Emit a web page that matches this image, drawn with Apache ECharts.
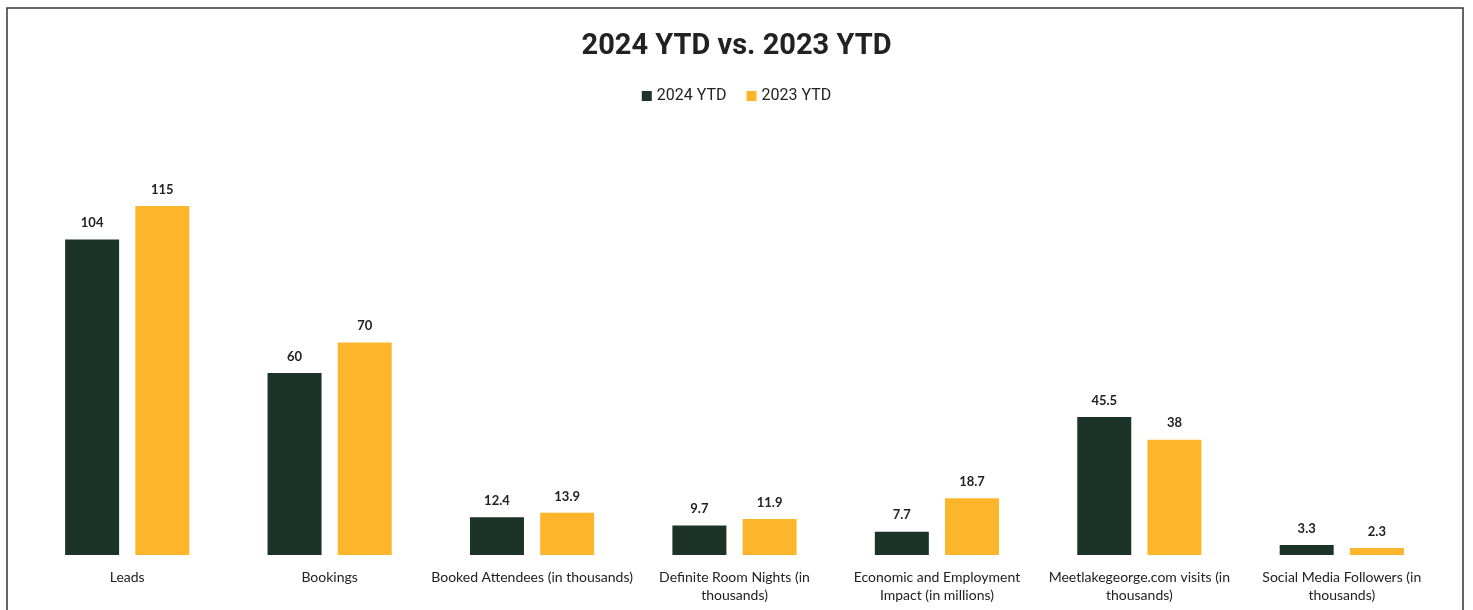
<!DOCTYPE html>
<html>
<head>
<meta charset="utf-8">
<script src="https://cdn.jsdelivr.net/npm/echarts@6/dist/echarts.min.js"></script>
<style>
html,body{margin:0;padding:0;background:#fff;}
#chart{width:1473px;height:610px;}
</style>
</head>
<body>
<div id="chart"></div>
<script>
const categories = [
  "Leads",
  "Bookings",
  "Booked Attendees (in thousands)",
  "Definite Room Nights (in\nthousands)",
  "Economic and Employment\nImpact (in millions)",
  "Meetlakegeorge.com visits (in\nthousands)",
  "Social Media Followers (in\nthousands)"
];
const seriesNames = ["2024 YTD", "2023 YTD"];
const values2024 = [104, 60, 12.4, 9.7, 7.7, 45.5, 3.3];
const values2023 = [115, 70, 13.9, 11.9, 18.7, 38, 2.3];

const chart = echarts.init(document.getElementById('chart'), null, {renderer: 'canvas'});
const labelStyle = {
  show: true,
  position: 'top',
  distance: 10,
  fontFamily: 'Lato',
  fontWeight: 'bold',
  fontSize: 13,
  color: '#222'
};
chart.setOption({
  animation: false,
  backgroundColor: '#fff',
  title: {
    text: '2024 YTD vs. 2023 YTD',
    left: 'center',
    top: 27,
    textStyle: {fontFamily: 'Roboto', fontWeight: 'bold', fontSize: 29, color: '#222'}
  },
  legend: {
    data: seriesNames,
    top: 83,
    left: 'center',
    itemWidth: 10,
    itemHeight: 10,
    itemGap: 20,
    icon: 'rect',
    textStyle: {fontFamily: 'Roboto', fontSize: 16, color: '#222'}
  },
  grid: {left: 26, right: 30, top: 206, bottom: 55, containLabel: false},
  xAxis: {
    type: 'category',
    data: categories,
    axisLine: {show: false},
    axisTick: {show: false},
    axisLabel: {
      interval: 0,
      margin: 13,
      fontFamily: 'Lato',
      fontSize: 14,
      lineHeight: 18,
      color: '#222'
    }
  },
  yAxis: {
    type: 'value',
    min: 0,
    max: 115,
    show: false,
    splitLine: {show: false}
  },
  graphic: [{
    type: 'rect',
    shape: {x: 7, y: 8, width: 1456, height: 620},
    style: {fill: 'none', stroke: '#333', lineWidth: 1.5},
    silent: true
  }],
  series: [
    {
      name: seriesNames[0],
      type: 'bar',
      data: values2024,
      barWidth: 54,
      barGap: '30%',
      itemStyle: {color: '#1c3328'},
      label: labelStyle
    },
    {
      name: seriesNames[1],
      type: 'bar',
      data: values2023,
      barWidth: 54,
      itemStyle: {color: '#fdb62b'},
      label: labelStyle
    }
  ]
});
</script>
</body>
</html>
